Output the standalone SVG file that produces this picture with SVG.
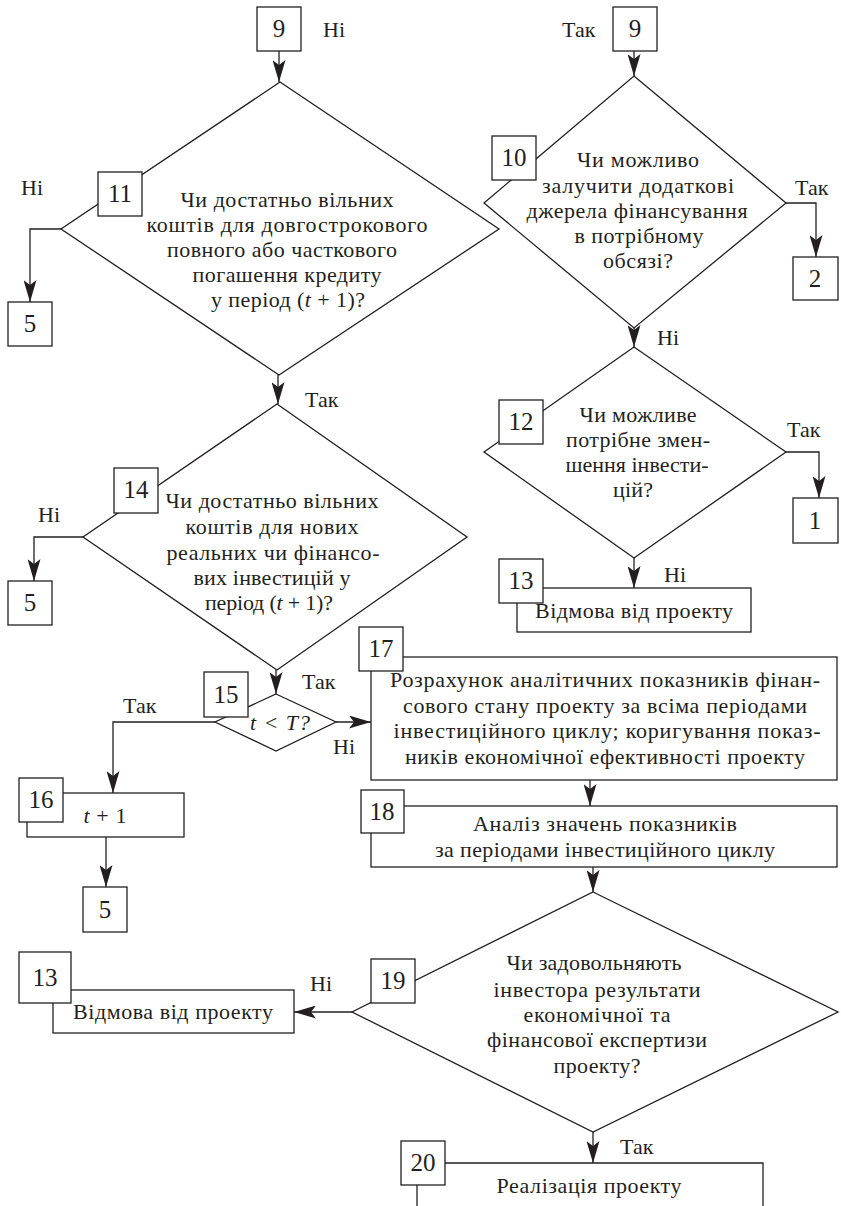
<svg xmlns="http://www.w3.org/2000/svg" width="841" height="1206" viewBox="0 0 841 1206">
<style>
.s{fill:#fff;stroke:#231f20;stroke-width:1.3}
.c{fill:none;stroke:#231f20;stroke-width:1.3}
text{font-family:"Liberation Serif","Times New Roman",serif;fill:#231f20}
.t{font-size:22px;text-anchor:middle}
.n{font-size:25px;text-anchor:middle}
.l{font-size:22px}
.i{font-style:italic}
</style>
<defs>
<marker id="a" markerUnits="userSpaceOnUse" markerWidth="22" markerHeight="13" viewBox="0 0 22 13" refX="22" refY="6.5" orient="auto">
<path d="M0,0 L22,6.5 L0,13 L5,6.5 z" fill="#231f20"/>
</marker>
</defs>
<g id="connectors">
<path class="c" d="M279,51 V82" marker-end="url(#a)"/>
<path class="c" d="M634,51 V76" marker-end="url(#a)"/>
<path class="c" d="M61,229 H30 V302" marker-end="url(#a)"/>
<path class="c" d="M278,375 V404" marker-end="url(#a)"/>
<path class="c" d="M786,203 H816 V257" marker-end="url(#a)"/>
<path class="c" d="M634,328 V347" marker-end="url(#a)"/>
<path class="c" d="M83,537 H34 V581" marker-end="url(#a)"/>
<path class="c" d="M786,452 H819 V498" marker-end="url(#a)"/>
<path class="c" d="M634,558 V588" marker-end="url(#a)"/>
<path class="c" d="M276,670 V694" marker-end="url(#a)"/>
<path class="c" d="M215,722 H113 V793" marker-end="url(#a)"/>
<path class="c" d="M336,722 H371" marker-end="url(#a)"/>
<path class="c" d="M106,837 V887" marker-end="url(#a)"/>
<path class="c" d="M590,780 V806" marker-end="url(#a)"/>
<path class="c" d="M593,867 V892" marker-end="url(#a)"/>
<path class="c" d="M352,1012 H294" marker-end="url(#a)"/>
<path class="c" d="M593,1132 V1163" marker-end="url(#a)"/>
</g>
<g id="labels">
<text class="l" x="323" y="37">Ні</text>
<text class="l" x="562" y="37">Так</text>
<text class="l" x="21" y="195">Ні</text>
<text class="l" x="305" y="407">Так</text>
<text class="l" x="38" y="522">Ні</text>
<text class="l" x="795" y="195">Так</text>
<text class="l" x="657" y="345">Ні</text>
<text class="l" x="787" y="437">Так</text>
<text class="l" x="664" y="582">Ні</text>
<text class="l" x="302" y="689">Так</text>
<text class="l" x="123" y="713">Так</text>
<text class="l" x="333" y="754">Ні</text>
<text class="l" x="310" y="991">Ні</text>
<text class="l" x="620" y="1154">Так</text>
</g>
<g id="n9a"><rect class="s" x="257" y="7" width="44" height="44"/><text class="n" x="279" y="37">9</text></g>
<g id="n9b"><rect class="s" x="613" y="7" width="44" height="44"/><text class="n" x="635" y="37">9</text></g>
<g id="n11">
<path class="s" d="M280,82 L499,229 L279,375 L61,229 Z"/>
<rect class="s" x="98" y="172" width="44" height="44"/><text class="n" x="120" y="202">11</text>
<text class="t" x="287" y="207" textLength="213" lengthAdjust="spacing">Чи достатньо вільних</text>
<text class="t" x="287" y="232" textLength="281" lengthAdjust="spacing">коштів для довгострокового</text>
<text class="t" x="282" y="257" textLength="230" lengthAdjust="spacing">повного або часткового</text>
<text class="t" x="287" y="282" textLength="189" lengthAdjust="spacing">погашення кредиту</text>
<text class="t" x="288" y="307" textLength="154" lengthAdjust="spacing">у період (<tspan class="i">t</tspan> + 1)?</text>
</g>
<g id="n5a"><rect class="s" x="8" y="302" width="44" height="44"/><text class="n" x="30" y="332">5</text></g>
<g id="n10">
<path class="s" d="M634,76 L786,203 L634,328 L484,203 Z"/>
<rect class="s" x="492" y="136" width="44" height="44"/><text class="n" x="514" y="166">10</text>
<text class="t" x="638" y="167" textLength="122" lengthAdjust="spacing">Чи можливо</text>
<text class="t" x="638" y="193" textLength="192" lengthAdjust="spacing">залучити додаткові</text>
<text class="t" x="637" y="218" textLength="221" lengthAdjust="spacing">джерела фінансування</text>
<text class="t" x="639" y="243" textLength="129" lengthAdjust="spacing">в потрібному</text>
<text class="t" x="638" y="268" textLength="70" lengthAdjust="spacing">обсязі?</text>
</g>
<g id="n2"><rect class="s" x="793" y="257" width="45" height="43"/><text class="n" x="815" y="287">2</text></g>
<g id="n14">
<path class="s" d="M277,404 L467,537 L277,670 L83,537 Z"/>
<rect class="s" x="114" y="468" width="44" height="45"/><text class="n" x="136" y="498">14</text>
<text class="t" x="272" y="508" textLength="213" lengthAdjust="spacing">Чи достатньо вільних</text>
<text class="t" x="272" y="534" textLength="173" lengthAdjust="spacing">коштів для нових</text>
<text class="t" x="273" y="560" textLength="213" lengthAdjust="spacing">реальних чи фінансо-</text>
<text class="t" x="272" y="585" textLength="157" lengthAdjust="spacing">вих інвестицій у</text>
<text class="t" x="269" y="610" textLength="128" lengthAdjust="spacing">період (<tspan class="i">t</tspan> + 1)?</text>
</g>
<g id="n5b"><rect class="s" x="8" y="581" width="44" height="44"/><text class="n" x="30" y="611">5</text></g>
<g id="n12">
<path class="s" d="M634,347 L786,452 L634,558 L484,452 Z"/>
<rect class="s" x="499" y="400" width="44" height="44"/><text class="n" x="521" y="430">12</text>
<text class="t" x="638" y="422" textLength="117" lengthAdjust="spacing">Чи можливе</text>
<text class="t" x="638" y="447" textLength="144" lengthAdjust="spacing">потрібне змен-</text>
<text class="t" x="637" y="472" textLength="143" lengthAdjust="spacing">шення інвести-</text>
<text class="t" x="633" y="497" textLength="40" lengthAdjust="spacing">цій?</text>
</g>
<g id="n1"><rect class="s" x="793" y="498" width="45" height="45"/><text class="n" x="815" y="529">1</text></g>
<g id="n13">
<rect class="s" x="517" y="588" width="234" height="44"/>
<rect class="s" x="499" y="559" width="44" height="44"/><text class="n" x="521" y="589">13</text>
<text class="t" x="634" y="618" textLength="198" lengthAdjust="spacing">Відмова від проекту</text>
</g>
<g id="n15">
<path class="s" d="M276,694 L336,722 L276,751 L215,722 Z"/>
<rect class="s" x="204" y="672" width="44" height="45"/><text class="n" x="226" y="703">15</text>
<text class="t i" x="280" y="730" textLength="60" lengthAdjust="spacing">t &lt; T?</text>
</g>
<g id="n16">
<rect class="s" x="27" y="793" width="157" height="44"/>
<rect class="s" x="19" y="778" width="44" height="44"/><text class="n" x="41" y="808">16</text>
<text class="t" x="105" y="823" textLength="43" lengthAdjust="spacing"><tspan class="i">t</tspan> + 1</text>
</g>
<g id="n5c"><rect class="s" x="83" y="887" width="44" height="45"/><text class="n" x="105" y="918">5</text></g>
<g id="n17">
<rect class="s" x="371" y="657" width="466" height="123"/>
<rect class="s" x="359" y="627" width="44" height="44"/><text class="n" x="381" y="657">17</text>
<text class="t" x="605" y="687" textLength="430" lengthAdjust="spacing">Розрахунок аналітичних показників фінан-</text>
<text class="t" x="605" y="713" textLength="404" lengthAdjust="spacing">сового стану проекту за всіма періодами</text>
<text class="t" x="607" y="738" textLength="427" lengthAdjust="spacing">інвестиційного циклу; коригування показ-</text>
<text class="t" x="605" y="764" textLength="400" lengthAdjust="spacing">ників економічної ефективності проекту</text>
</g>
<g id="n18">
<rect class="s" x="371" y="806" width="466" height="61"/>
<rect class="s" x="361" y="790" width="43" height="43"/><text class="n" x="382" y="820">18</text>
<text class="t" x="605" y="831" textLength="264" lengthAdjust="spacing">Аналіз значень показників</text>
<text class="t" x="605" y="857" textLength="340" lengthAdjust="spacing">за періодами інвестиційного циклу</text>
</g>
<g id="n19">
<path class="s" d="M593,892 L838,1012 L593,1132 L352,1012 Z"/>
<rect class="s" x="371" y="959" width="44" height="44"/><text class="n" x="393" y="989">19</text>
<text class="t" x="594" y="970" textLength="175" lengthAdjust="spacing">Чи задовольняють</text>
<text class="t" x="597" y="997" textLength="207" lengthAdjust="spacing">інвестора результати</text>
<text class="t" x="597" y="1022" textLength="147" lengthAdjust="spacing">економічної та</text>
<text class="t" x="597" y="1047" textLength="220" lengthAdjust="spacing">фінансової експертизи</text>
<text class="t" x="597" y="1073" textLength="87" lengthAdjust="spacing">проекту?</text>
</g>
<g id="n13b">
<rect class="s" x="53" y="990" width="241" height="43"/>
<rect class="s" x="19" y="952" width="52" height="51"/><text class="n" x="45" y="986">13</text>
<text class="t" x="173" y="1019" textLength="200" lengthAdjust="spacing">Відмова від проекту</text>
</g>
<g id="n20">
<path class="s" d="M417,1207 V1163 H763 V1207"/>
<rect class="s" x="401" y="1141" width="44" height="44"/><text class="n" x="423" y="1171">20</text>
<text class="t" x="589" y="1193" textLength="185" lengthAdjust="spacing">Реалізація проекту</text>
</g>
</svg>
